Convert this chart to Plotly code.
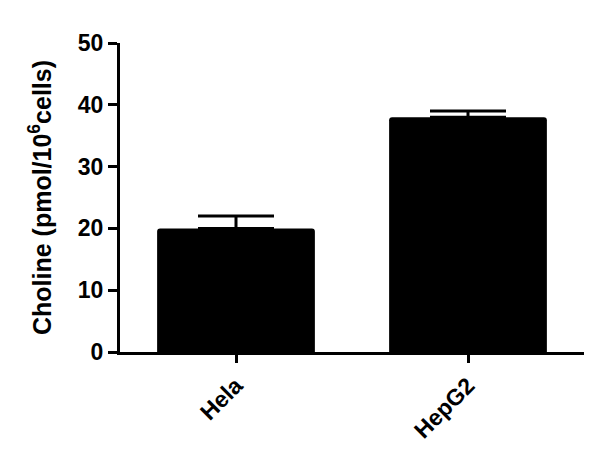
import plotly.graph_objects as go

cell_lines = ["Hela", "HepG2"]
choline = [20.0, 38.0]
choline_sem = [2.0, 1.0]

fig = go.Figure()
fig.add_trace(go.Bar(
    x=cell_lines,
    y=choline,
    width=0.68,
    marker=dict(color="black", line=dict(width=0), cornerradius=3),
    error_y=dict(type="data", array=choline_sem, arrayminus=[0, 0], symmetric=False,
                 color="black", thickness=3, width=38),
))

font = "Liberation Sans, Arial, sans-serif"
# page body adds ~8px offset, margins compensate for it
fig.update_layout(
    width=600, height=465,
    margin=dict(l=112, r=24, t=35, b=121),
    paper_bgcolor="white", plot_bgcolor="white",
    showlegend=False,
    font=dict(family=font, color="black", size=22),
)
fig.update_xaxes(
    range=[-0.5, 1.5],
    showline=True, linecolor="black", linewidth=3,
    ticks="outside", ticklen=8, tickwidth=3, tickcolor="black",
    tickangle=-45,
    tickfont=dict(family=font, size=23, weight="bold"),
    showgrid=False, zeroline=False,
)
fig.update_yaxes(
    range=[0, 50], tickvals=[0, 10, 20, 30, 40, 50],
    showline=True, linecolor="black", linewidth=3,
    ticks="outside", ticklen=9, tickwidth=3, tickcolor="black",
    tickfont=dict(family=font, size=23, weight="bold"),
    title=dict(text="Choline (pmol/10<sup>6</sup>cells)", standoff=20,
               font=dict(family=font, size=25, weight="bold")),
    showgrid=False, zeroline=False,
)

fig.write_html("out.html")
